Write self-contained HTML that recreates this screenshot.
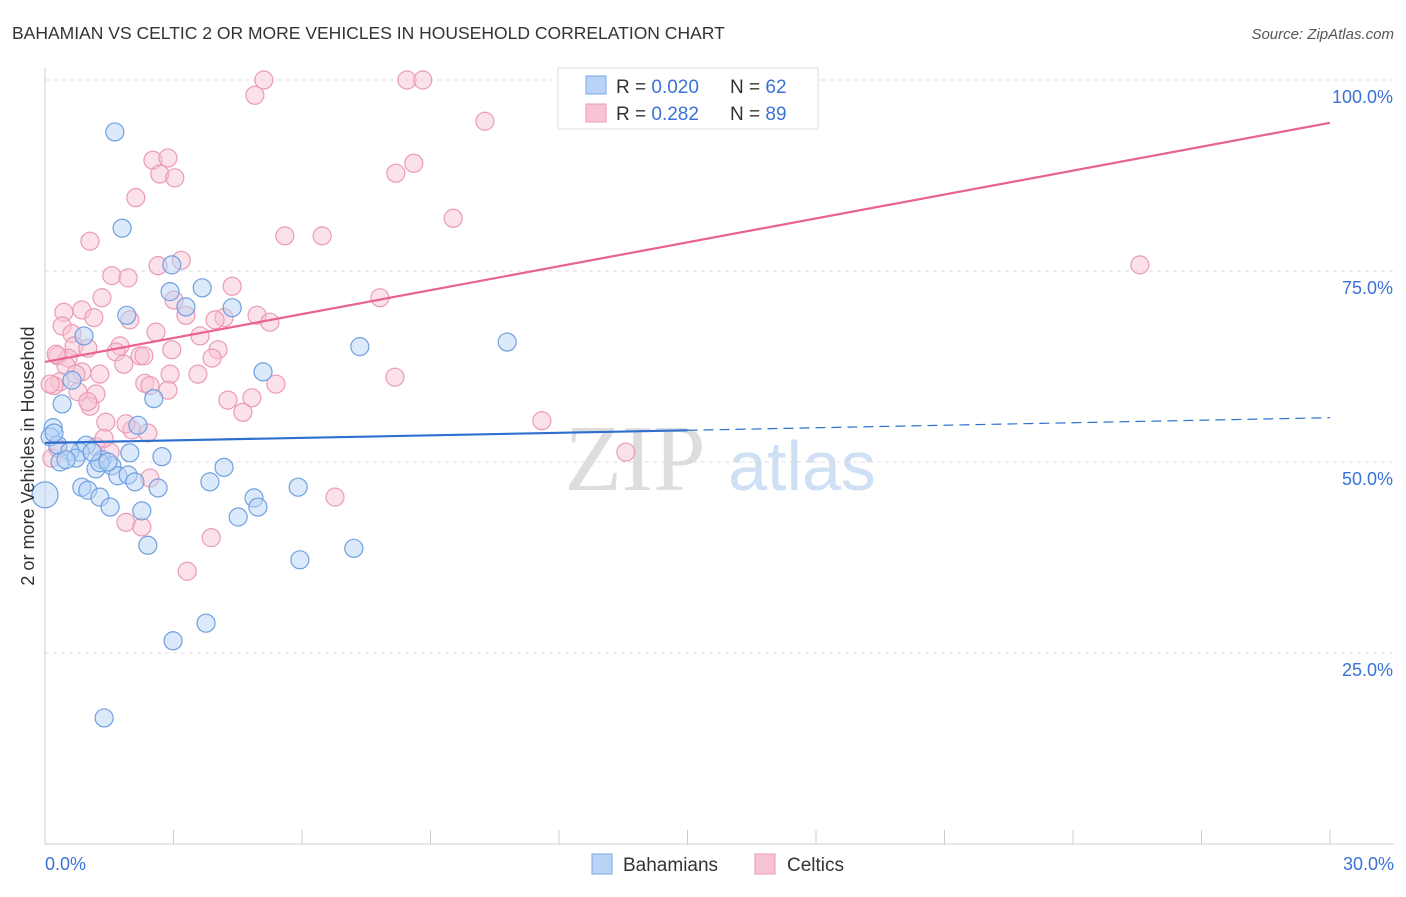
<!DOCTYPE html>
<html><head><meta charset="utf-8"><style>
body{margin:0;background:#fff;font-family:"Liberation Sans",sans-serif;}
svg text{font-family:"Liberation Sans",sans-serif;}
</style></head><body>
<svg id="chart" width="1406" height="892" xmlns="http://www.w3.org/2000/svg">
<text x="12" y="39" font-size="17.5" fill="#333">BAHAMIAN VS CELTIC 2 OR MORE VEHICLES IN HOUSEHOLD CORRELATION CHART</text>
<text x="1394" y="39" font-size="15" fill="#555" text-anchor="end" font-style="italic">Source: ZipAtlas.com</text>
<g>
<text x="635" y="490" font-size="94" fill="#ddd" text-anchor="middle" font-family="Liberation Serif" style="font-family:'Liberation Serif',serif">ZIP</text>
<text x="802" y="490" font-size="70" fill="#cfe0f4" text-anchor="middle">atlas</text>
</g>
<g id="grid"></g>
<g id="axes"></g>
<g id="marks"></g>
<text transform="translate(34,456) rotate(-90)" font-size="18" fill="#333" text-anchor="middle">2 or more Vehicles in Household</text>
<g>
<rect x="558" y="68" width="260" height="61" fill="#fff" stroke="#ddd"/>
<rect x="586" y="76" width="20" height="18" fill="#b8d3f5" stroke="#7aa8e6"/>
<rect x="586" y="104" width="20" height="18" fill="#f8c4d4" stroke="#eb9bb5"/>
<text x="616" y="93" font-size="19" fill="#333">R = <tspan fill="#3a72d8">0.020</tspan></text>
<text x="730" y="93" font-size="19" fill="#333">N = <tspan fill="#3a72d8">62</tspan></text>
<text x="616" y="120" font-size="19" fill="#333">R =  <tspan fill="#3a72d8">0.282</tspan></text>
<text x="730" y="120" font-size="19" fill="#333">N = <tspan fill="#3a72d8">89</tspan></text>
</g>
<g>
<rect x="592" y="854" width="20" height="20" fill="#b8d3f5" stroke="#7aa8e6"/>
<text x="623" y="871" font-size="19" fill="#333">Bahamians</text>
<rect x="755" y="854" width="20" height="20" fill="#f8c4d4" stroke="#eb9bb5"/>
<text x="787" y="871" font-size="19" fill="#333">Celtics</text>
</g>
</svg>
<script>
const yTicks=[25,50,75,100];
const yTickLabels=["25.0%","50.0%","75.0%","100.0%"];
const xTickLabels=["0.0%","30.0%"];
const blueX=[1.63,1.80,2.96,3.67,4.37,3.29,2.92,1.91,7.35,10.79,5.09,0.91,0.63,0.40,2.54,2.17,0.19,0.12,0.30,0.96,0.82,0.58,1.33,1.98,2.73,4.18,0.35,0.72,1.56,1.19,1.70,1.94,2.10,2.64,3.85,0.86,1.00,1.28,1.52,2.26,4.51,4.88,4.97,5.91,2.40,7.21,5.95,3.76,2.99,1.38,0.0,0.21,1.28,1.10,0.49,1.47];
const blueY=[93.2,80.6,75.8,72.8,70.2,70.3,72.3,69.2,65.1,65.7,61.8,66.5,60.7,57.6,58.3,54.8,54.5,53.3,52.2,52.2,51.3,51.4,50.3,51.2,50.7,49.3,50.0,50.5,49.5,49.1,48.2,48.3,47.4,46.6,47.4,46.7,46.3,45.4,44.1,43.6,42.8,45.3,44.1,46.7,39.1,38.7,37.2,28.9,26.6,16.5,45.7,53.8,49.9,51.3,50.3,50.0];
const pinkX=[5.11,8.45,8.82,4.90,10.27,2.52,2.87,2.68,3.03,8.61,8.19,2.12,9.53,1.05,5.60,6.47,3.18,2.64,1.56,1.94,4.37,1.33,3.01,7.82,0.44,0.86,1.14,3.29,4.95,4.18,5.25,1.98,3.97,0.40,0.63,2.59,3.62,0.68,1.00,0.30,1.75,2.96,1.66,2.22,2.31,4.04,3.90,0.54,1.84,0.86,1.28,3.57,2.92,2.33,0.35,0.21,0.12,2.45,2.87,5.39,8.17,0.77,1.19,1.05,4.27,4.83,4.62,1.42,2.03,2.40,0.16,0.30,1.19,1.52,1.89,2.45,11.60,13.56,6.77,1.89,2.26,3.88,3.32,25.56,1.00,0.49,0.72,1.38,0.26];
const pinkY=[100,100,100,98.0,94.6,89.5,89.8,87.7,87.2,89.1,87.8,84.6,81.9,78.9,79.6,79.6,76.4,75.7,74.4,74.1,73.0,71.5,71.2,71.5,69.6,69.9,68.9,69.2,69.2,68.9,68.3,68.6,68.6,67.8,66.8,67.0,66.5,65.2,64.9,63.9,65.2,64.7,64.4,63.9,63.9,64.7,63.6,63.6,62.8,61.8,61.5,61.5,61.5,60.3,60.5,60.0,60.2,60.0,59.4,60.2,61.1,59.2,58.9,57.3,58.1,58.4,56.5,55.2,54.2,53.8,50.5,51.8,52.0,51.3,55.0,47.9,55.4,51.3,45.4,42.1,41.5,40.1,35.7,75.8,57.9,62.6,61.5,53.1,64.1];
const blueTrend=[52.5,55.8];
const pinkTrend=[63.1,94.4];
const blueSolidEnd=15;

const NS="http://www.w3.org/2000/svg";
const X0=45,X1=1330,Ytop=80,Ybot=844;
function sx(v){return X0+(X1-X0)*v/30;}
function sy(v){return Ybot-(Ybot-Ytop)*v/100;}
function mk(tag,attrs,parent){const e=document.createElementNS(NS,tag);for(const k in attrs)e.setAttribute(k,attrs[k]);parent.appendChild(e);return e;}
const grid=document.getElementById('grid'),axes=document.getElementById('axes'),marks=document.getElementById('marks');
yTicks.forEach((t,i)=>{
  const l=mk('line',{x1:X0,x2:1394,y1:sy(t),y2:sy(t),stroke:'#ddd','stroke-dasharray':'4,4'},grid);
  
  
  const tx=mk('text',{x:1393,y:sy(t)+23,'font-size':18,fill:'#3a72d8','text-anchor':'end'},axes);
  tx.textContent=yTickLabels[i];
  
  
});
const ax=mk('line',{x1:X0,x2:1394,y1:Ybot,y2:Ybot,stroke:'#ccc'},axes);


const ay=mk('line',{x1:X0,x2:X0,y1:68,y2:Ybot,stroke:'#ccc'},axes);


for(let k=1;k<=10;k++){
  const t=mk('line',{x1:sx(k*3),x2:sx(k*3),y1:830,y2:Ybot,stroke:'#ccc'},axes);
  
  
}
[[0,'start',X0],[30,'end',1394]].forEach((a,i)=>{
  const t=mk('text',{x:a[2],y:870,'font-size':18,fill:'#3a72d8','text-anchor':a[1]},axes);
  t.textContent=xTickLabels[i];
  
  
});
function dots(xs,ys,fill,stroke,name){
  xs.forEach((x,i)=>{
    const r=(name==='bahamian-point'&&x===0)?13:9;
    const c=mk('circle',{cx:sx(x),cy:sy(ys[i]),r:r,fill:fill,'fill-opacity':0.5,stroke:stroke,'stroke-width':1.2},marks);
    
    
  });
}
dots(pinkX,pinkY,'#f8c4d4','#eb9bb5','celtic-point');
dots(blueX,blueY,'#b8d3f5','#6fa0e0','bahamian-point');
function ty(tr,x){return tr[0]+(tr[1]-tr[0])*x/30;}
const bs=mk('line',{x1:sx(0),y1:sy(ty(blueTrend,0)),x2:sx(blueSolidEnd),y2:sy(ty(blueTrend,blueSolidEnd)),stroke:'#2f6fd0','stroke-width':2.2},marks);


const bd=mk('line',{x1:sx(blueSolidEnd),y1:sy(ty(blueTrend,blueSolidEnd)),x2:sx(30),y2:sy(ty(blueTrend,30)),stroke:'#2f6fd0','stroke-width':1.2,'stroke-dasharray':'10,6'},marks);


const pl=mk('line',{x1:sx(0),y1:sy(ty(pinkTrend,0)),x2:sx(30),y2:sy(ty(pinkTrend,30)),stroke:'#e8638e','stroke-width':2.2},marks);


</script>
</body></html>
